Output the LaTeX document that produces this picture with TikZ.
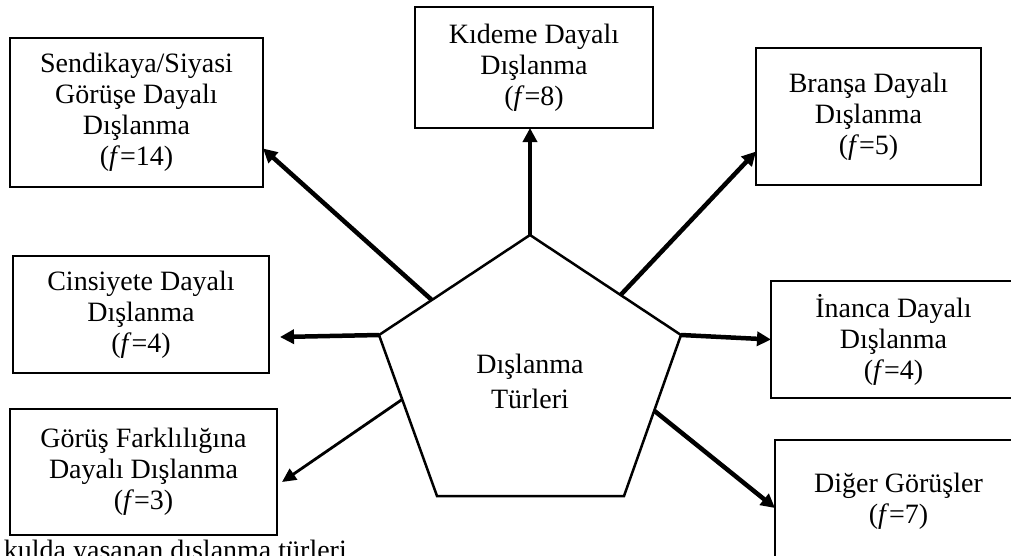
\documentclass[tikz,border=0pt]{standalone}
\usepackage{fontspec}
\setmainfont{Liberation Serif}
\usepackage{tikz}
\usetikzlibrary{arrows.meta, calc}
\tikzset{
    typebox/.style={rectangle, draw=black, line width=2.5pt, align=center, inner sep=0pt, outer sep=0pt, font=\fontsize{28}{31}\selectfont},
    pentagon/.style={draw=black, line width=2.5pt, line join=miter},
    arrow/.style={line width=4.5pt, -{Triangle[length=14pt,width=14pt]}},
    thinarrow/.style={line width=2.8pt, -{Triangle[length=14pt,width=13pt]}}
}

\begin{document}
\begin{tikzpicture}[x=1pt, y=-1pt]
                \useasboundingbox (0,0) rectangle (1011,555);
                \clip (0,0) rectangle (1011,555);
                % center pentagon
                \coordinate (p1) at (530,235);
                \coordinate (p2) at (379,335);
                \coordinate (p3) at (437,496);
                \coordinate (p4) at (624,496);
                \coordinate (p5) at (681,335);
                \draw[pentagon] (p1) -- (p2) -- (p3) -- (p4) -- (p5) -- cycle;
                \node[align=center, font=\fontsize{28}{35}\selectfont, inner sep=0pt] (types) at (530,381) {Dışlanma\\Türleri};
                % boxes
                \node[typebox, minimum width=253pt, minimum height=149pt] (union) at (136.5,112.5) {Sendikaya/Siyasi\\Görüşe Dayalı\\Dışlanma\\(\textit{f}=14)};
                \node[typebox, minimum width=238pt, minimum height=121pt] (seniority) at (534,67.5) {Kıdeme Dayalı\\Dışlanma\\(\textit{f}=8)};
                \node[typebox, minimum width=225pt, minimum height=137pt] (branch) at (868.5,116.5) {Branşa Dayalı\\Dışlanma\\(\textit{f}=5)};
                \node[typebox, minimum width=256pt, minimum height=117pt] (gender) at (141,314.5) {Cinsiyete Dayalı\\Dışlanma\\(\textit{f}=4)};
                \node[typebox, minimum width=267pt, minimum height=126pt] (opinion) at (143.5,472) {Görüş Farklılığına\\Dayalı Dışlanma\\(\textit{f}=3)};
                \node[typebox, minimum width=245pt, minimum height=117pt] (belief) at (893.5,339.5) {İnanca Dayalı\\Dışlanma\\(\textit{f}=4)};
                \node[typebox, minimum width=247pt, minimum height=122pt] (other) at (898.5,501) {Diğer Görüşler\\(\textit{f}=7)};
                % arrow starts on the pentagon
                \coordinate (a1) at ($(p1)!0.65!(p2)$);
                \coordinate (a3) at ($(p1)!0.6!(p5)$);
                \coordinate (a5) at ($(p2)!0.4!(p3)$);
                \coordinate (a7) at ($(p5)!0.47!(p4)$);
                \draw[arrow] (a1) -- ($(union.east)+(0,36)$);
                \draw[arrow] (p1) -- (p1 |- seniority.south);
                \draw[arrow] (a3) -- ($(branch.west)+(0,35)$);
                \draw[arrow] (p2) -- ($(p2 -| gender.east)+(11,2)$);
                \draw[thinarrow] (a5) -- ($(opinion.east)+(5,10)$);
                \draw[arrow] (p5) -- (belief.west);
                \draw[arrow] (a7) -- ($(other.west)+(0,7)$);
                % caption, cut off
                \node[anchor=base east, inner sep=0pt, font=\fontsize{28}{31}\selectfont] (caption) at (347,559) {kulda yaşanan dışlanma türleri};
            \end{tikzpicture}
\end{document}
